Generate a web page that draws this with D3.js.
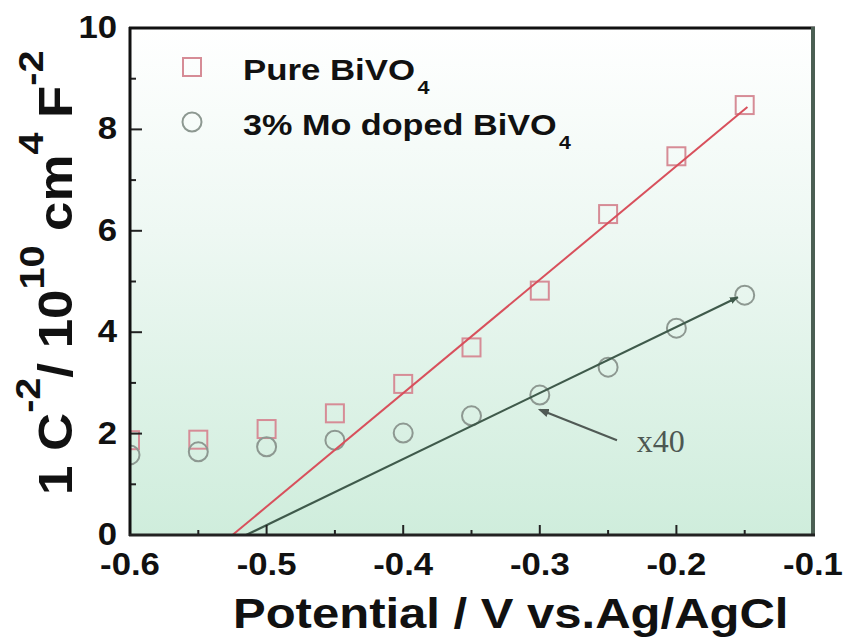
<!DOCTYPE html>
<html>
<head>
<meta charset="utf-8">
<script src="https://cdn.jsdelivr.net/npm/d3@7"></script>
<style>
  html, body { margin: 0; padding: 0; background: #ffffff; }
  svg { display: block; }
  text { font-family: "Liberation Sans", Arial, sans-serif; font-weight: bold; fill: #111; }
</style>
</head>
<body>
<svg id="chart" width="848" height="641"></svg>
<script>
// ---- data ----
const potentials = [-0.6, -0.55, -0.5, -0.45, -0.4, -0.35, -0.3, -0.25, -0.2, -0.15];
const pureValues = [1.87, 1.88, 2.09, 2.40, 2.98, 3.70, 4.82, 6.33, 7.47, 8.48];
const dopedValues = [1.58, 1.64, 1.74, 1.87, 2.01, 2.35, 2.76, 3.31, 4.08, 4.73];
const pureFit = [[-0.525, 0], [-0.148, 8.44]];
const dopedFit = [[-0.515, 0], [-0.155, 4.69]];
const xTicks = [-0.6, -0.5, -0.4, -0.3, -0.2, -0.1];
const xMinorTicks = [-0.55, -0.45, -0.35, -0.25, -0.15];
const yTicks = [0, 2, 4, 6, 8, 10];
const yMinorTicks = [1, 3, 5, 7, 9];
const annotationArrow = [[-0.2435, 1.87], [-0.2999, 2.47]];
const annotationText = { x: -0.229, y: 1.63, label: "x40" };
const legendLabels = ["Pure BiVO", "3% Mo doped BiVO"];

// ---- layout ----
const svg = d3.select("#chart");
const L = 130, R = 813, T = 28, B = 535;
const x = d3.scaleLinear().domain([-0.6, -0.1]).range([L, R]);
const y = d3.scaleLinear().domain([0, 10]).range([B, T]);
const SX = 1.12; // horizontal stretch of glyphs

const defs = svg.append("defs");
const grad = defs.append("linearGradient").attr("id", "bg")
  .attr("x1", 0).attr("y1", 0).attr("x2", 0).attr("y2", 1);
grad.append("stop").attr("offset", "0%").attr("stop-color", "#ffffff");
grad.append("stop").attr("offset", "40%").attr("stop-color", "#eef8f3");
grad.append("stop").attr("offset", "100%").attr("stop-color", "#cfeddc");
defs.append("clipPath").attr("id", "plotclip").append("rect")
  .attr("x", L).attr("y", T).attr("width", R - L).attr("height", B - T);
defs.append("marker").attr("id", "arrowGrey").attr("viewBox", "0 0 10 10")
  .attr("refX", 8).attr("refY", 5).attr("markerWidth", 5).attr("markerHeight", 5)
  .attr("orient", "auto-start-reverse").attr("markerUnits", "strokeWidth")
  .append("path").attr("d", "M0,1 L10,5 L0,9 Z").attr("fill", "#505a55");
defs.append("marker").attr("id", "arrowGreen").attr("viewBox", "0 0 10 10")
  .attr("refX", 9).attr("refY", 5).attr("markerWidth", 4).attr("markerHeight", 4)
  .attr("orient", "auto").attr("markerUnits", "strokeWidth")
  .append("path").attr("d", "M0,1 L10,5 L0,9 Z").attr("fill", "#3f5a4b");

// background
svg.append("rect").attr("x", L).attr("y", T).attr("width", R - L).attr("height", B - T)
  .attr("fill", "url(#bg)");

const plot = svg.append("g").attr("clip-path", "url(#plotclip)");

// markers
plot.selectAll("rect.pure").data(potentials).join("rect").attr("class", "pure")
  .attr("x", (d) => x(d) - 9).attr("y", (d, i) => y(pureValues[i]) - 9)
  .attr("width", 18).attr("height", 18)
  .attr("fill", "none").attr("stroke", "#d68c96").attr("stroke-width", 2);
plot.selectAll("circle.doped").data(potentials).join("circle").attr("class", "doped")
  .attr("cx", (d) => x(d)).attr("cy", (d, i) => y(dopedValues[i])).attr("r", 9.5)
  .attr("fill", "none").attr("stroke", "#8d9891").attr("stroke-width", 2);

// fit lines
const line = d3.line().x((d) => x(d[0])).y((d) => y(d[1]));
svg.append("path").attr("d", line(pureFit)).attr("fill", "none")
  .attr("stroke", "#d8505c").attr("stroke-width", 2);
svg.append("path").attr("d", line(dopedFit)).attr("fill", "none")
  .attr("stroke", "#3f5a4b").attr("stroke-width", 2.2).attr("marker-end", "url(#arrowGreen)");

// annotation
svg.append("path").attr("d", line(annotationArrow)).attr("fill", "none")
  .attr("stroke", "#505a55").attr("stroke-width", 2.2).attr("marker-end", "url(#arrowGrey)");
svg.append("text").attr("transform", `translate(${x(annotationText.x)},${y(annotationText.y)}) scale(1.0,1)`)
  .style("font-family", "'Liberation Serif', 'Times New Roman', serif").style("font-weight", "normal")
  .style("fill", "#4d5752").style("font-size", "32px").text(annotationText.label);

// ticks (inward)
const tickG = svg.append("g").attr("stroke", "#222").attr("stroke-width", 2);
tickG.selectAll("line.xmaj").data(xTicks).join("line")
  .attr("x1", (d) => x(d)).attr("x2", (d) => x(d)).attr("y1", B).attr("y2", B - 10);
tickG.selectAll("line.xmin").data(xMinorTicks).join("line").attr("class", "xmin")
  .attr("x1", (d) => x(d)).attr("x2", (d) => x(d)).attr("y1", B).attr("y2", B - 5);
tickG.selectAll("line.ymaj").data(yTicks).join("line").attr("class", "ymaj")
  .attr("x1", L).attr("x2", L + 12).attr("y1", (d) => y(d)).attr("y2", (d) => y(d));
tickG.selectAll("line.ymin").data(yMinorTicks).join("line").attr("class", "ymin")
  .attr("x1", L).attr("x2", L + 6).attr("y1", (d) => y(d)).attr("y2", (d) => y(d));

// frame
svg.append("line").attr("x1", L - 1).attr("x2", R + 2).attr("y1", T).attr("y2", T)
  .attr("stroke", "#111").attr("stroke-width", 3);
svg.append("line").attr("x1", R).attr("x2", R).attr("y1", T - 1).attr("y2", B + 1)
  .attr("stroke", "#4b5f53").attr("stroke-width", 4);
svg.append("line").attr("x1", L).attr("x2", L).attr("y1", T - 1).attr("y2", B + 1)
  .attr("stroke", "#111").attr("stroke-width", 3);
svg.append("line").attr("x1", L - 1).attr("x2", R + 2).attr("y1", B).attr("y2", B)
  .attr("stroke", "#222").attr("stroke-width", 3);

// tick labels
svg.selectAll("text.xl").data(xTicks).join("text").attr("class", "xl")
  .attr("transform", (d) => `translate(${x(d)},575) scale(${SX},1)`)
  .attr("text-anchor", "middle").style("font-size", "31px").text((d) => d.toFixed(1));
svg.selectAll("text.yl").data(yTicks).join("text").attr("class", "yl")
  .attr("transform", (d) => `translate(117,${y(d) + 10}) scale(${SX},1)`)
  .attr("text-anchor", "end").style("font-size", "31px").text((d) => d);

// axis titles
svg.append("text").attr("transform", `translate(233,628) scale(1.14,1)`)
  .style("font-size", "43px").text("Potential / V vs.Ag/AgCl");

const yt = svg.append("text").attr("transform", `translate(72,495) rotate(-90) scale(1.1,1)`)
  .style("font-size", "48px");
yt.append("tspan").text("1 C");
yt.append("tspan").attr("dy", -32).style("font-size", "36px").text("-2");
yt.append("tspan").attr("dy", 32).text("/ 10");
yt.append("tspan").attr("dy", -28).style("font-size", "36px").text("10");
yt.append("tspan").attr("dy", 28).text(" cm");
yt.append("tspan").attr("dy", -29).style("font-size", "36px").text("4");
yt.append("tspan").attr("dy", 29).text(" F");
yt.append("tspan").attr("dy", -29).style("font-size", "36px").text("-2");

// legend
const legY = [67, 122];
svg.append("rect").attr("x", 192 - 9).attr("y", legY[0] - 9).attr("width", 18).attr("height", 18)
  .attr("fill", "none").attr("stroke", "#d68c96").attr("stroke-width", 2);
svg.append("circle").attr("cx", 192).attr("cy", legY[1]).attr("r", 9.5)
  .attr("fill", "none").attr("stroke", "#8d9891").attr("stroke-width", 2);
legendLabels.forEach((lab, i) => {
  const t = svg.append("text").attr("transform", `translate(243,${[80, 135][i]}) scale(${i === 0 ? 1.2 : 1.18},1)`)
    .style("font-size", "29px");
  t.append("tspan").text(lab);
  t.append("tspan").attr("dy", 14).attr("dx", 2).style("font-size", "18px").text("4");
});
</script>
</body>
</html>
